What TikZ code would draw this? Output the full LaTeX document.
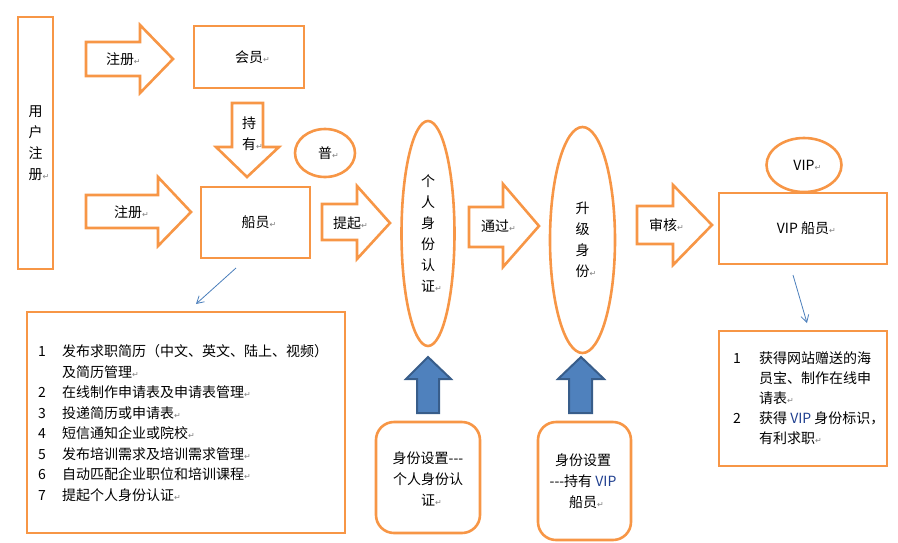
\documentclass[tikz,border=0pt]{standalone}
\usepackage{fontspec}
\setmainfont{Noto Sans CJK SC}
\newfontfamily\symfont{DejaVu Sans}
\usetikzlibrary{arrows.meta,shapes.geometric}
\definecolor{org}{HTML}{F79646}
\definecolor{bfill}{HTML}{4F81BD}
\definecolor{bline}{HTML}{385D8A}
\definecolor{thinb}{HTML}{4A7EBB}
\definecolor{vipc}{HTML}{1F3F8F}
\newcommand\crm{{\symfont\fontsize{8}{8}\selectfont\textcolor{gray}{↵}}}
\begin{document}
\begin{tikzpicture}[x=1pt,y=-1pt,
  obox/.style={draw=org,line width=2.6pt,inner sep=0pt,align=center,font=\fontsize{14}{21}\selectfont},
  oell/.style={obox,ellipse},
  oarrow/.style={draw=org,line width=2.6pt,fill=white,line join=miter},
  barrow/.style={draw=bline,line width=2pt,fill=bfill,line join=miter},
  lbl/.style={font=\fontsize{14}{21}\selectfont,inner sep=0pt,align=center},
  listtxt/.style={font=\fontsize{14}{20.5}\selectfont,inner sep=0pt,anchor=north west},
  conn/.style={draw=thinb,line width=0.8pt,-{Straight Barb[length=7pt,width=8pt]}}]
\useasboundingbox (0,0) rectangle (898,542);

% boxes
\node[obox,minimum width=35,minimum height=252] (reg) at (35.5,143) {用\\户\\注\\册\rlap{\crm}};
\node[obox,minimum width=110,minimum height=62] (huiyuan) at (249,57) {会员\rlap{\crm}};
\node[obox,minimum width=109,minimum height=71] (chuan) at (255.5,222.5) {船员\rlap{\crm}};
\node[obox,minimum width=168,minimum height=71] (vipchuan) at (803,228.5) {VIP 船员\rlap{\crm}};
\node[obox,minimum width=318,minimum height=221] (list1) at (186,422.5) {};
\node[obox,minimum width=168,minimum height=135] (list2) at (803,398.5) {};
\node[obox,rounded corners=18pt,minimum width=104,minimum height=111] (set1) at (428,477.5) {};
\node[obox,rounded corners=18pt,minimum width=93,minimum height=118] (set2) at (584.5,481) {};

% ellipses
\node[oell,minimum width=60,minimum height=48] (pu) at (325,153) {普\rlap{\crm}};
\node[oell,minimum width=53,minimum height=225] (geren) at (428,233.5) {个\\人\\身\\份\\认\\证\rlap{\crm}};
\node[oell,minimum width=65,minimum height=226] (shengji) at (582.5,240) {升\\级\\身\\份\rlap{\crm}};
\node[oell,minimum width=75,minimum height=54] (vip) at (804,165) {VIP\rlap{\crm}};

% block arrows
\draw[oarrow] (86,42) -- (140,42) -- (140,25) -- (173,59) -- (140,93) -- (140,76) -- (86,76) -- cycle;
\node[lbl] (zc1) at (120,59) {注册\rlap{\crm}};
\draw[oarrow] (86,195) -- (158,195) -- (158,177) -- (191,212) -- (158,246) -- (158,228) -- (86,228) -- cycle;
\node[lbl] (zc2) at (128,212) {注册\rlap{\crm}};
\draw[oarrow] (232,103) -- (263,103) -- (263,147) -- (279,147) -- (247,177) -- (216,147) -- (232,147) -- cycle;
\node[lbl] (cy) at (249,134) {持\\有\rlap{\crm}};
\draw[oarrow] (322,204) -- (357,204) -- (357,186) -- (390,223) -- (357,259) -- (357,240) -- (322,240) -- cycle;
\node[lbl] (tq) at (347,223) {提起\rlap{\crm}};
\draw[oarrow] (469,207) -- (503,207) -- (503,184) -- (539,226) -- (503,267) -- (503,247) -- (469,247) -- cycle;
\node[lbl] (tg) at (495,226) {通过\rlap{\crm}};
\draw[oarrow] (637,206) -- (673,206) -- (673,185) -- (712,225) -- (673,265) -- (673,244) -- (637,244) -- cycle;
\node[lbl] (sh) at (663,225) {审核\rlap{\crm}};

% blue up arrows
\draw[barrow] (417,413) -- (417,379) -- (406,379) -- (428,357) -- (451,379) -- (439,379) -- (439,413) -- cycle;
\draw[barrow] (569,413) -- (569,379) -- (558,379) -- (581,357) -- (604,379) -- (592,379) -- (592,413) -- cycle;

% thin connectors
\coordinate (c1s) at (236,268);
\coordinate (c1e) at (196,304);
\coordinate (c2s) at (793,275);
\coordinate (c2e) at (807,323);
\draw[conn] (c1s) -- (c1e);
\draw[conn] (c2s) -- (c2e);

% list texts
\node[listtxt] (items1) at (38,342) {\begin{tabular}{@{}p{24pt}@{}l@{}}
1 & 发布求职简历（中文、英文、陆上、视频）\\
  & 及简历管理\crm\\
2 & 在线制作申请表及申请表管理\crm\\
3 & 投递简历或申请表\crm\\
4 & 短信通知企业或院校\crm\\
5 & 发布培训需求及培训需求管理\crm\\
6 & 自动匹配企业职位和培训课程\crm\\
7 & 提起个人身份认证\crm
\end{tabular}};
\node[listtxt,font=\fontsize{14}{20}\selectfont] (items2) at (733,349) {\begin{tabular}{@{}p{26pt}@{}l@{}}
1 & 获得网站赠送的海\\
  & 员宝、制作在线申\\
  & 请表\crm\\
2 & 获得 \textcolor{vipc}{VIP} 身份标识，\\
  & 有利求职\crm
\end{tabular}};

\node[lbl] (set1t) at (428,479) {身份设置-{}-{}-\\个人身份认\\证\rlap{\crm}};
\node[lbl] (set2t) at (583,481) {身份设置\\-{}-{}-持有 \textcolor{vipc}{VIP}\\船员\rlap{\crm}};
\end{tikzpicture}
\end{document}
